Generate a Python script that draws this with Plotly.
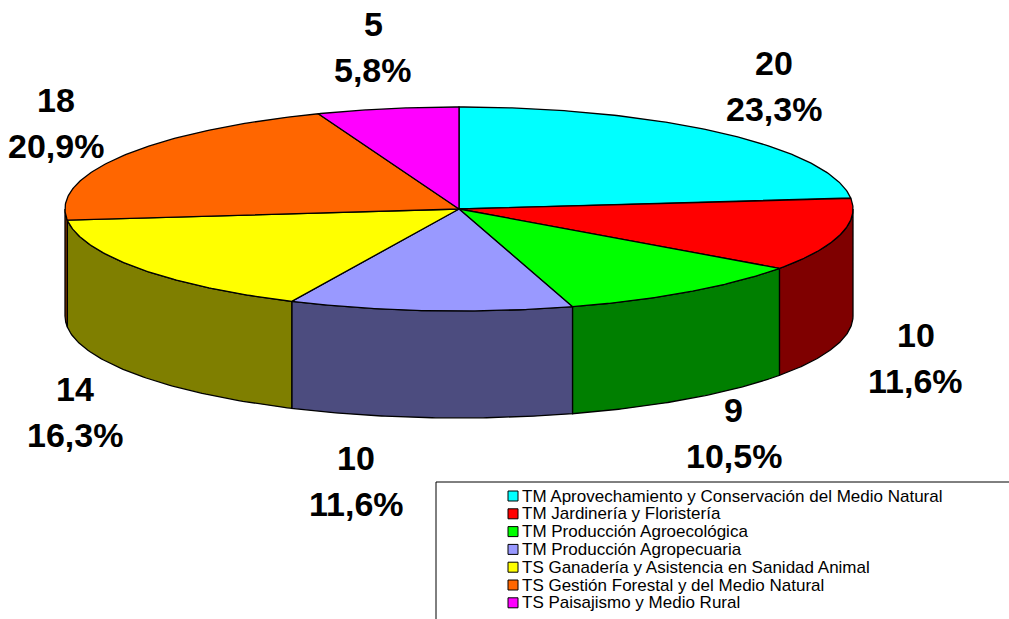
import numpy as np
import plotly.graph_objects as go

# ---------------- data ----------------
categories = [
    "TM Aprovechamiento y Conservación del Medio Natural",
    "TM Jardinería y Floristería",
    "TM Producción Agroecológica",
    "TM Producción Agropecuaria",
    "TS Ganadería y Asistencia en Sanidad Animal",
    "TS Gestión Forestal y del Medio Natural",
    "TS Paisajismo y Medio Rural",
]
counts = [20, 10, 9, 10, 14, 18, 5]
top_colors = ["#00FFFF", "#FF0000", "#00FF00", "#9999FF", "#FFFF00", "#FF6600", "#FF00FF"]

# ---------------- layout geometry ----------------
W, H = 1009, 619
CX, CY, RX, RY, DEPTH = 459, 209, 394, 102, 107
LEG_X0, LEG_Y0 = 436, 482
LEG_ROW0, LEG_ROW_STEP = 496, 17.8
FONT = "Liberation Sans, Arial, sans-serif"


def shade(hx):
    r, g, b = int(hx[1:3], 16), int(hx[3:5], 16), int(hx[5:7], 16)
    return "#%02X%02X%02X" % (r // 2, g // 2, b // 2)


def ell(theta, dy=0.0):
    t = np.radians(theta)
    return CX + RX * np.sin(t), CY - RY * np.cos(t) + dy


total = sum(counts)
fracs = [c / total for c in counts]
bounds = np.concatenate([[0], np.cumsum(fracs) * 360])

fig = go.Figure()

# side walls (front half only)
for i in range(len(counts)):
    a0, a1 = bounds[i], bounds[i + 1]
    s, e = max(a0, 90), min(a1, 270)
    if s >= e:
        continue
    th = np.linspace(s, e, 80)
    xt, yt = ell(th)
    xb, yb = ell(th[::-1], DEPTH)
    xs = np.concatenate([xt, xb, xt[:1]])
    ys = np.concatenate([yt, yb, yt[:1]])
    fig.add_trace(go.Scatter(x=xs, y=ys, mode="lines", fill="toself",
                             fillcolor=shade(top_colors[i]),
                             line=dict(color="black", width=1.3),
                             hoverinfo="skip", showlegend=False))

# top faces
for i in range(len(counts)):
    a0, a1 = bounds[i], bounds[i + 1]
    th = np.linspace(a0, a1, 120)
    xa, ya = ell(th)
    xs = np.concatenate([[CX], xa, [CX]])
    ys = np.concatenate([[CY], ya, [CY]])
    fig.add_trace(go.Scatter(x=xs, y=ys, mode="lines", fill="toself",
                             fillcolor=top_colors[i],
                             line=dict(color="black", width=1.3),
                             hoverinfo="skip", showlegend=False))

# data labels
HW, HH, RGAP = 50, 35, 28
GAPX, GAPY = 30, 14
annotations = []
for i in range(len(counts)):
    mid = (bounds[i] + bounds[i + 1]) / 2
    t = np.radians(mid)
    sn, cs = np.sin(t), np.cos(t)
    ex, ey = ell(mid, DEPTH if cs < 0 else 0)
    px, py = ex + RGAP * sn, ey - RGAP * cs
    lx, ly = px + HW * sn, py - HH * cs
    # avoid the legend box
    if ly + HH > LEG_Y0 - GAPY and lx + HW > LEG_X0 - GAPX:
        if lx > LEG_X0:
            ly = LEG_Y0 - GAPY - HH
        else:
            lx = LEG_X0 - GAPX - HW
    pct = ("%.1f" % (fracs[i] * 100)).replace(".", ",") + "%"
    for txt, off in ((str(counts[i]), -23), (pct, 23)):
        annotations.append(dict(x=lx, y=ly + off, xref="x", yref="y", text=txt,
                                showarrow=False, xanchor="center", yanchor="middle",
                                font=dict(family=FONT, size=34, color="black", weight="bold")))

# legend (manual)
rows = [LEG_ROW0 + k * LEG_ROW_STEP for k in range(len(categories))]
fig.add_trace(go.Scatter(x=[LEG_X0 + 77] * len(categories), y=rows, mode="markers",
                         marker=dict(symbol="square", size=10, color=top_colors,
                                     line=dict(color="black", width=1)),
                         hoverinfo="skip", showlegend=False))
for k, name in enumerate(categories):
    annotations.append(dict(x=LEG_X0 + 84, y=rows[k], xref="x", yref="y", text=name,
                            showarrow=False, xanchor="left", yanchor="middle",
                            font=dict(family=FONT, size=17, color="black")))

fig.update_layout(
    width=W, height=H,
    margin=dict(l=0, r=0, t=0, b=0),
    paper_bgcolor="white", plot_bgcolor="white",
    xaxis=dict(range=[0, W], visible=False, fixedrange=True),
    yaxis=dict(range=[H, 0], visible=False, fixedrange=True),
    annotations=annotations,
    shapes=[dict(type="rect", xref="x", yref="y", x0=LEG_X0, y0=LEG_Y0, x1=W + 10, y1=H + 10,
                 line=dict(color="black", width=1), fillcolor="rgba(0,0,0,0)", layer="below")],
    showlegend=False,
)

fig.write_html("out.html", config={"displayModeBar": False},
               post_script="document.body.style.margin='0';document.body.style.overflow='hidden';")
